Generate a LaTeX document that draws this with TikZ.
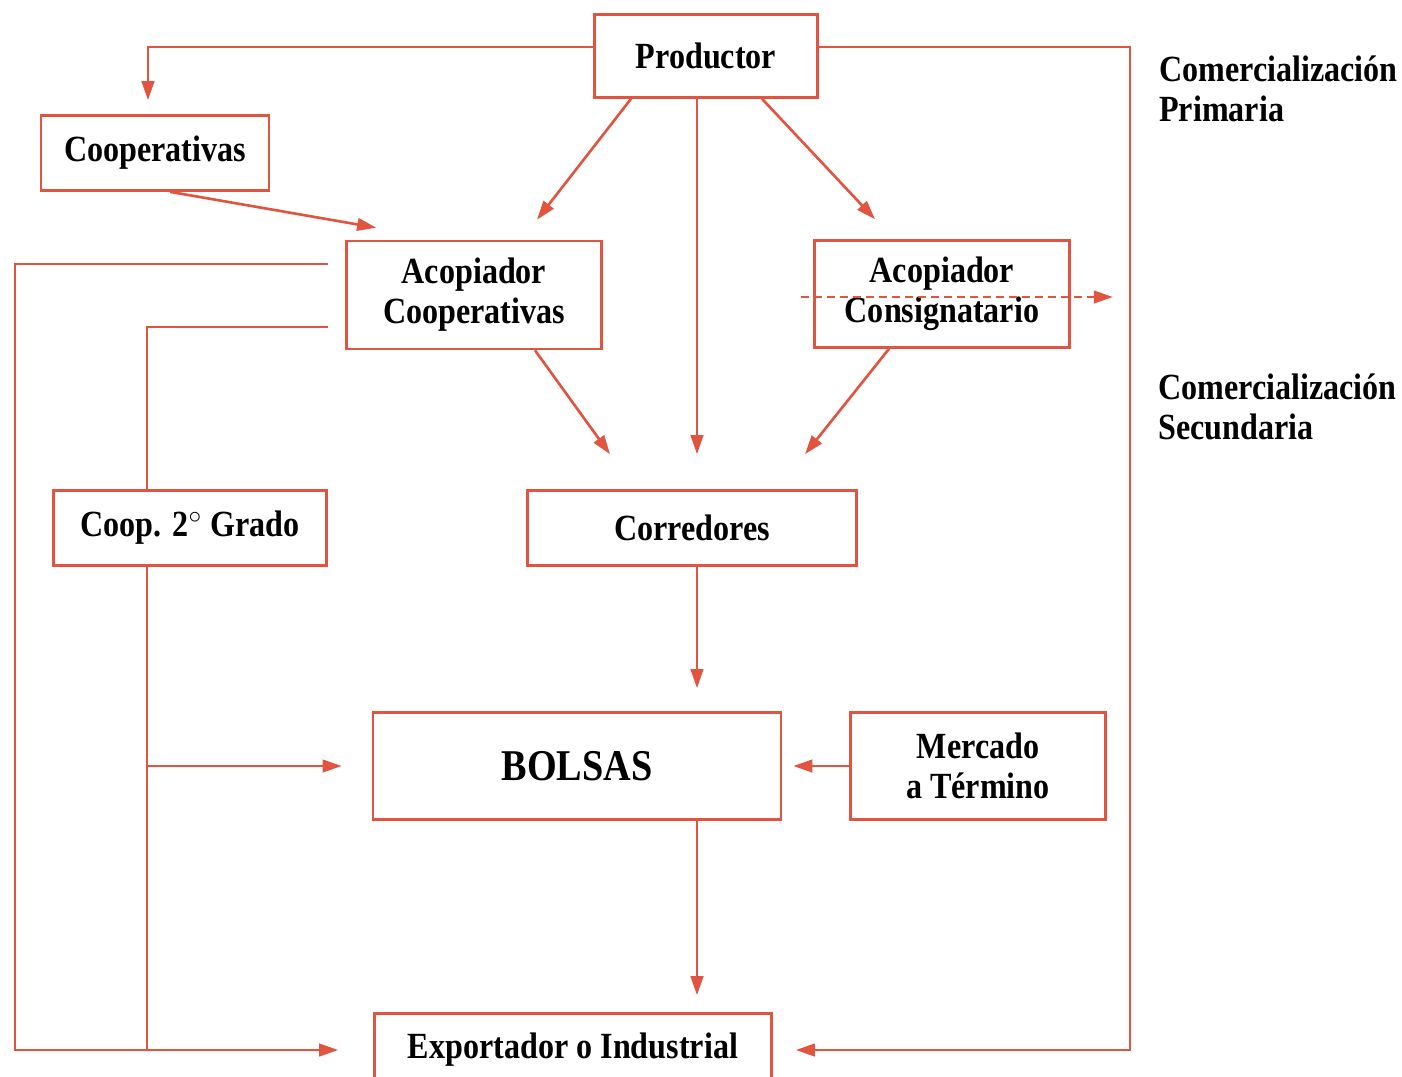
\documentclass[tikz,border=0pt]{standalone}
\usepackage{fontspec}
\setmainfont{Liberation Serif}[FakeStretch=0.87]
\usetikzlibrary{arrows.meta,calc}
\definecolor{linered}{RGB}{224,84,64}
\begin{document}
\begin{tikzpicture}[x=0.2mm, y=-0.2mm, line width=1.5pt,
    every node/.style={font=\bfseries\fontsize{21}{22.7}\selectfont, align=center, inner sep=0pt},
    box/.style={draw=linered, rectangle},
    arr/.style={draw=linered, -{Triangle[length=3.8mm,width=2.5mm]}},
    conn/.style={draw=linered}]
          \useasboundingbox (0,0) rectangle (1402,1076);
          \node [box, minimum width=44.6mm, minimum height=16.6mm] (prod) at (706,56) {Productor};
          \node [box, minimum width=45.6mm, minimum height=15mm] (coop) at (155,153) {Cooperativas};
          \node [box, minimum width=51mm, minimum height=21.6mm] (acop) at (474,295) {Acopiador\\Cooperativas};
          \node [box, minimum width=51mm, minimum height=21.4mm] (consig) at (942,294) {Acopiador\\Consignatario};
          \node [box, minimum width=54.6mm, minimum height=15mm] (grado) at (190,528) {Coop. 2$^\circ$ Grado};
          \node [box, minimum width=65.8mm, minimum height=15mm] (corr) at (692,528) {Corredores};
          \node [box, minimum width=81.6mm, minimum height=21.4mm, font=\bfseries\fontsize{25}{27}\selectfont] (bolsas) at (577,766) {BOLSAS};
          \node [box, minimum width=51mm, minimum height=21.4mm] (merc) at (978,766) {Mercado\\a Término};
          \node [box, minimum width=79.4mm, minimum height=14.6mm] (expo) at (573,1050) {Exportador o Industrial};
          \node [anchor=west, align=left] (prim) at (1158,89) {Comercialización\\Primaria};
          \node [anchor=west, align=left] (secu) at (1157,407) {Comercialización\\Secundaria};
          \coordinate (mid) at (697,0);
          \coordinate (rr) at (1130,1050);
          \coordinate (ll) at (15,1050);
          \coordinate (lt) at ($(acop.west)+(-17,-31)$);
          \coordinate (lb) at ($(acop.west)+(-17,32)$);
          \coordinate (gs) at ($(grado.south)+(-43,0)$);
          \draw [arr, shorten >=2.8mm] (prod.west |- 0,47) -| ($(coop.north)+(-7,0)$);
          \draw [arr, shorten >=4.6mm] (prod.east |- 0,47) -| (rr) -- (expo.east);
          \draw [arr] ($(prod.south)+(-75,0)$) -- ($(acop.north)+(63,-20)$);
          \draw [arr, shorten >=7mm] (prod.south -| mid) -- (corr.north -| mid);
          \draw [arr] ($(prod.south)+(56,0)$) -- ($(consig.north)+(-67,-20)$);
          \draw [arr] ($(coop.south)+(15,0)$) -- ($(acop.north west)+(31,-12)$);
          \draw [arr] ($(acop.south)+(61,0)$) -- ($(corr.north)+(-82,-35)$);
          \draw [arr] ($(consig.south)+(-53,0)$) -- ($(corr.north)+(113,-35)$);
          \draw [arr, dash pattern=on 1.6mm off 1mm] ($(consig.west)+(-12,3)$) -- ($(consig.east)+(42,3)$);
          \draw [arr, shorten >=4.6mm] (corr.south -| mid) -- (bolsas.north -| mid);
          \draw [arr, shorten >=2.2mm] (merc.west) -- (bolsas.east);
          \draw [arr, shorten >=3.4mm] (bolsas.south -| mid) -- (expo.north -| mid);
          \draw [arr, shorten >=7mm] (lt) -| (ll) -- (expo.west);
          \draw [conn] (lb) -| ($(grado.north)+(-43,0)$);
          \draw [conn] (gs) -- (gs |- ll);
          \draw [arr, shorten >=6mm] (gs |- bolsas.west) -- (bolsas.west);
        \end{tikzpicture}
\end{document}
